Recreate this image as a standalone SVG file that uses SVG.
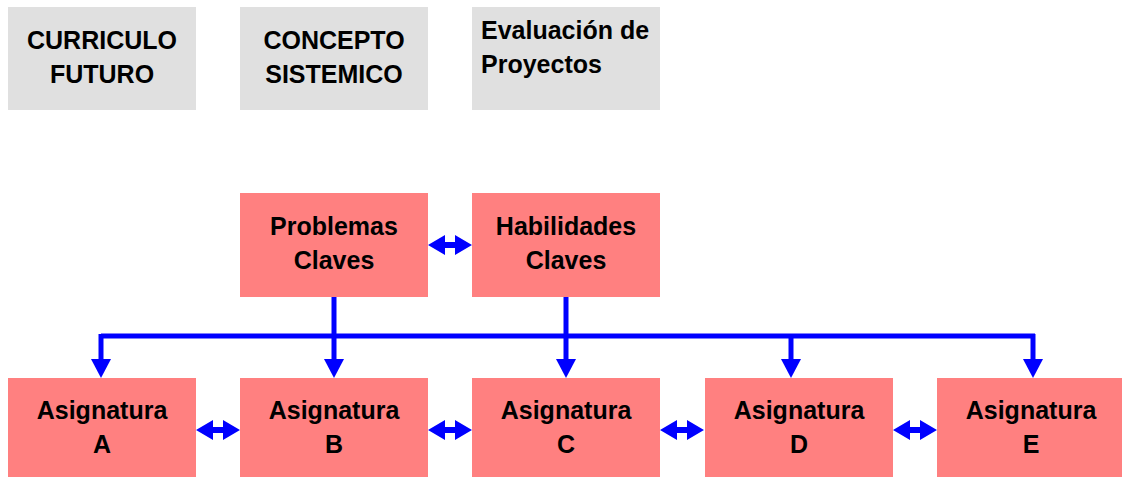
<svg xmlns="http://www.w3.org/2000/svg" width="1122" height="477" viewBox="0 0 1122 477">
<defs>
<style>
.t{font-family:"Liberation Sans",Arial,sans-serif;font-weight:bold;font-size:25px;fill:#000;text-anchor:middle}
.tl{font-family:"Liberation Sans",Arial,sans-serif;font-weight:bold;font-size:25px;fill:#000}
.g{fill:#E0E0E0}
.p{fill:#FF8080}
.ln{stroke:#0000FF;stroke-width:5;fill:none}
.b{fill:#0000FF}
</style>
<marker id="ah" markerWidth="20" markerHeight="20" viewBox="0 0 20 20" refX="0" refY="10" orient="auto" markerUnits="userSpaceOnUse">
<path d="M0,0 L19,10 L0,20 Z" fill="#0000FF"/>
</marker>
<g id="dbl">
<path d="M0,0 L17,-10 L17,-3 L27,-3 L27,3 L17,3 L17,10 Z" class="b"/>
<path d="M44,0 L27,-10 L27,-3 L17,-3 L17,3 L27,3 L27,10 Z" class="b"/>
<rect x="21.5" y="-5" width="1" height="2" fill="#fff"/>
<rect x="21.5" y="3" width="1" height="2" fill="#fff"/>
</g>
</defs>
<rect width="1122" height="477" fill="#fff"/>
<g id="n-curriculo"><rect class="g" x="8" y="7" width="188" height="103"/><text class="t" x="102" y="49">CURRICULO</text><text class="t" x="102" y="83">FUTURO</text></g>
<g id="n-concepto"><rect class="g" x="240" y="7" width="188" height="103"/><text class="t" x="334" y="49">CONCEPTO</text><text class="t" x="334" y="83">SISTEMICO</text></g>
<g id="n-evaluacion"><rect class="g" x="472" y="7" width="188" height="103"/><text class="tl" x="481" y="39">Evaluación de</text><text class="tl" x="481" y="73">Proyectos</text></g>
<g id="n-problemas"><rect class="p" x="240" y="193" width="188" height="104"/><text class="t" x="334" y="235">Problemas</text><text class="t" x="334" y="269">Claves</text></g>
<g id="n-habilidades"><rect class="p" x="472" y="193" width="188" height="104"/><text class="t" x="566" y="235">Habilidades</text><text class="t" x="566" y="269">Claves</text></g>
<g id="n-a"><rect class="p" x="8" y="378" width="188" height="99"/><text class="t" x="102" y="419">Asignatura</text><text class="t" x="102" y="453">A</text></g>
<g id="n-b"><rect class="p" x="240" y="378" width="188" height="99"/><text class="t" x="334" y="419">Asignatura</text><text class="t" x="334" y="453">B</text></g>
<g id="n-c"><rect class="p" x="472" y="378" width="188" height="99"/><text class="t" x="566" y="419">Asignatura</text><text class="t" x="566" y="453">C</text></g>
<g id="n-d"><rect class="p" x="705" y="378" width="188" height="99"/><text class="t" x="799" y="419">Asignatura</text><text class="t" x="799" y="453">D</text></g>
<g id="n-e"><rect class="p" x="937" y="378" width="188" height="99"/><text class="t" x="1031" y="419">Asignatura</text><text class="t" x="1031" y="453">E</text></g>
<g id="connectors">
<path class="ln" d="M101,336 L1035,336"/>
<path class="ln" d="M334,297 L334,359" marker-end="url(#ah)"/>
<path class="ln" d="M566,297 L566,359" marker-end="url(#ah)"/>
<path class="ln" d="M101,334 L101,359" marker-end="url(#ah)"/>
<path class="ln" d="M791,334 L791,359" marker-end="url(#ah)"/>
<path class="ln" d="M1033,334 L1033,359" marker-end="url(#ah)"/>
<use href="#dbl" x="428" y="245"/>
<use href="#dbl" x="196" y="430"/>
<use href="#dbl" x="428" y="430"/>
<use href="#dbl" x="660" y="430"/>
<use href="#dbl" x="893" y="430"/>
</g>
</svg>
